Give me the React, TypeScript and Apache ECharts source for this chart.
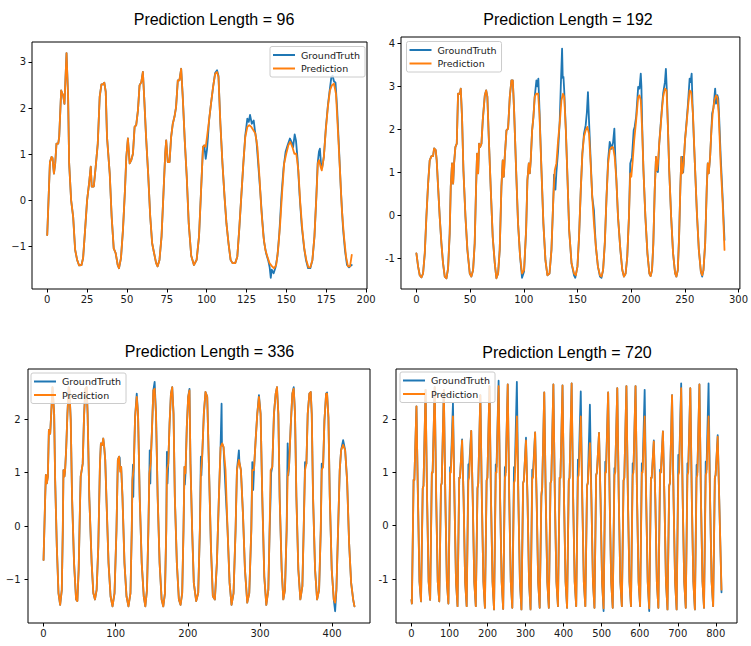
import { useEffect, useRef } from "react";
import * as echarts from "echarts";

// ---------- Panel 1: Prediction Length = 96 (flat x,y pairs) ----------
const shared96 = [
  0, -0.75, 1.7, 0.83, 2.7, 0.94, 3.3, 0.92, 4.2, 0.58, 5, 0.8, 5.8, 1.23, 6.9, 1.23, 7.5, 1.37, 8.75, 2.38,
  10, 2.27, 10.8, 2.09, 12.1, 3.19, 13.1, 2.24, 13.75, 0.8, 15, 0, 16.25, -0.35, 17.5, -1.07, 18.75, -1.29,
  20, -1.41, 21.5, -1.4, 22.5, -1.25, 23.75, -0.64, 25, 0, 26.25, 0.37, 27.3, 0.73, 27.9, 0.3, 29.2, 0.3,
  30.4, 0.73, 31.7, 1.23, 32.9, 2.24, 34, 2.51, 35, 2.51, 35.8, 2.55, 36.7, 2.35, 37.5, 1.37, 39.2, 0.58,
  40.4, -0.35, 41.7, -1.04, 42.9, -1.14, 44.2, -1.4, 45, -1.47, 46.25, -1.25, 47.5, -0.64, 48.75, 0.22,
  49.6, 0.94, 50.6, 1.34, 51.7, 0.8, 52.7, 0.87, 53.75, 1.01, 54.8, 1.59, 55.8, 1.63, 56.9, 1.95, 57.9, 2.49,
  59, 2.56, 60, 2.78, 60.8, 2.24, 62, 1.37, 63.3, 0.58, 64.6, -0.35, 65.8, -0.93, 67, -1.14, 68.3, -1.36,
  69.2, -1.43, 70.4, -1.29, 71.7, -0.78, 72.9, 0.15, 74, 1.01, 74.6, 1.3, 75.6, 0.83, 76.7, 0.83, 77.7, 1.37,
  78.75, 1.66, 79.8, 1.81, 80.8, 2.02, 81.9, 2.6, 82.9, 2.6, 84, 2.85, 85, 2.24, 86.25, 1.3, 87.5, 0.51,
  88.75, -0.5, 90.3, -1.2, 92, -1.4, 93.7, -1.29, 95.2, -0.78, 96.4, 0.15, 97.7, 1.16, 98.5, 1.19,
];
const pred96Tail = [
  99.4, 1.16, 100.2, 1.37, 101.5, 1.73, 102.7, 2.09, 104, 2.45, 105.3, 2.74, 106.5, 2.78, 107.4, 2.67,
  108.6, 1.66, 109.9, 0.8, 111.2, 0.08, 112.4, -0.5, 113.7, -0.93, 115, -1.29, 116.2, -1.36, 117.9, -1.36,
  119.2, -1.22, 120.4, -0.64, 121.7, 0.08, 123, 0.8, 124.2, 1.37, 125.5, 1.59, 126.7, 1.63, 128, 1.59,
  129.3, 1.52, 130.5, 1.45, 131.8, 1.16, 133.1, 0.51, 134.3, -0.21, 135.6, -0.78, 136.8, -1.07, 138.1, -1.22,
  139.4, -1.36, 141, -1.43, 142.3, -1.47, 143.6, -1.4, 144.8, -1.07, 146.1, -0.5, 147.4, 0.22, 148.6, 0.8,
  149.9, 1.01, 151.2, 1.19, 152.4, 1.27, 153.7, 1.16, 155, 1.01, 156.2, 1.01, 157.5, 0.65, 158.7, -0.06,
  160, -0.64, 161.3, -1.07, 162.5, -1.29, 163.8, -1.45, 165, -1.45, 166.3, -1.29, 167.6, -0.78, 168.8, 0.08,
  169.7, 0.8, 170.5, 0.87, 171.4, 0.73, 172.2, 0.65, 173.5, 0.94, 174.7, 1.52, 176, 2.02, 177.3, 2.38,
  178.5, 2.49, 179.8, 2.53, 181.1, 2.31, 182.3, 1.52, 183.6, 0.65, 184.8, -0.21, 186.1, -0.78, 187.4, -1.22,
  188.6, -1.43, 189.9, -1.43, 191, -1.18,
];
const gt96Tail = [
  99.4, 0.9, 100.2, 1.1, 100.8, 1.37, 101.5, 1.73, 102.7, 2.09, 104, 2.45, 105.3, 2.76, 106.5, 2.82,
  107.4, 2.7, 108.6, 1.66, 109.9, 0.8, 111.2, 0.08, 112.4, -0.5, 113.7, -0.93, 115, -1.29, 116.2, -1.36,
  117.9, -1.36, 119.2, -1.22, 120.4, -0.64, 121.7, 0.08, 123, 0.8, 124.2, 1.4, 125.5, 1.77, 126.4, 1.7,
  127.2, 1.85, 128.3, 1.66, 129.5, 1.73, 130.3, 1.5, 131.2, 1.3, 132.3, 0.8, 133.6, 0.2, 134.8, -0.4,
  136, -0.9, 137.3, -1.15, 138.6, -1.3, 139.5, -1.45, 140.2, -1.68, 140.8, -1.5, 142, -1.58, 143.2, -1.45,
  144.4, -1.2, 145.6, -0.7, 146.9, 0.1, 148.2, 0.7, 149.5, 1.05, 150.8, 1.2, 152.2, 1.34, 153.4, 1.25,
  154.2, 1.15, 155.2, 1.43, 156, 1.3, 157, 0.9, 158.3, 0.1, 159.6, -0.55, 161, -1.0, 162.3, -1.3,
  163.6, -1.47, 165, -1.47, 166.3, -1.3, 167.6, -0.78, 168.8, 0.1, 169.6, 0.8, 170.4, 1.05, 171, 1.12,
  171.8, 0.75, 172.4, 0.7, 173.5, 0.95, 174.7, 1.55, 176, 2.05, 177.2, 2.4, 178.2, 2.67, 179, 2.7,
  179.8, 2.58, 180.8, 2.55, 181.8, 2.0, 182.9, 1.2, 184.2, 0.2, 185.5, -0.6, 186.8, -1.1, 188, -1.4,
  189.3, -1.45, 190.3, -1.42, 191, -1.4,
];

// ---------- Panel 2: Prediction Length = 192 ----------
const shared192 = [
  0, -0.88, 1.6, -1.19, 3.1, -1.39, 4.7, -1.44, 6.2, -1.35, 7.8, -0.88, 9.3, -0.03, 10.9, 0.74, 12.4, 1.28,
  14, 1.38, 15.5, 1.38, 16.5, 1.56, 18, 1.52, 18.9, 1.28, 20.2, 0.67, 21.7, -0.03, 23.3, -0.65, 24.8, -1.11,
  26.4, -1.42, 28, -1.46, 29.5, -1.23, 31, -0.42, 32, 0.67, 33.2, 1.21, 34.2, 0.74, 35.1, 1.21, 36.3, 1.59,
  37.6, 1.67, 38.8, 2.83, 40.4, 2.83, 41.3, 2.95, 42.5, 2.29, 43.8, 1.05, 45.7, -0.03, 47.5, -0.8,
  49.7, -1.35, 51.2, -1.42, 52.8, -1.27, 54.3, -0.65, 55.6, 0.67, 56.5, 1.44, 57.5, 0.98, 58.4, 1.67,
  59.3, 1.59, 60.6, 1.67, 61.8, 2.21, 63.7, 2.79, 65, 2.91, 66.1, 2.76, 67.4, 1.83, 69.3, 0.59, 71.1, -0.5,
  73, -1.11, 74.5, -1.46, 76.1, -1.35, 77.6, -0.8, 79.2, 0.67, 80.4, 1.28, 81.4, 0.9, 82.3, 1.36, 83.9, 1.98,
  85.4, 2.02, 87, 2.76, 88.5, 3.14, 89.8, 3.14, 91, 2.45, 92.9, 1.05, 94.7, -0.19, 96.6, -0.96,
];
const pred192Tail = [
  98.4, -1.35, 100.3, -1.27, 102.2, -0.34, 103.4, 0.82, 104.7, 1.21, 105.6, 0.98, 106.5, 1.28, 107.8, 1.98,
  109, 2.29, 110.2, 2.76, 111.5, 2.83, 113.4, 2.83, 114.6, 2.37, 116.5, 1.05, 118.3, -0.19, 120.2, -1.04,
  122, -1.39, 124, -1.35, 125.8, -0.8, 127.6, 0.43, 128.9, 1.05, 130.4, 1.21, 132, 1.75, 133.5, 2.14,
  135.1, 2.68, 136.6, 2.83, 137.7, 2.76, 139.2, 1.98, 140.8, 0.82, 142.3, -0.34, 144.5, -1.11, 146.9, -1.35,
  148.5, -1.39, 150, -1.19, 151.5, -0.5, 153.1, 0.59, 154.6, 1.44, 156.1, 1.83, 157.7, 1.98, 159.2, 2.06,
  160.8, 1.9, 162.3, 1.21, 163.8, 0.43, 165.4, -0.19, 167.2, -0.73, 169.1, -1.19, 171, -1.39, 172.4, -1.42,
  173.9, -1.27, 175.5, -0.65, 177.1, 0.43, 178.6, 1.21, 180.1, 1.52, 181.7, 1.59, 183.2, 1.59, 184.7, 1.36,
  186.3, 0.82, 187.8, -0.03, 190, -0.8, 191.8, -1.27, 193.3, -1.42, 194.9, -1.35, 196.4, -0.96, 198, -0.03,
  199.2, 0.98, 200.2, 0.9, 201.3, 1.21, 202.9, 1.75, 204.7, 2.21, 206.6, 2.76, 207.8, 2.79, 209, 2.68,
  210.3, 1.98, 211.5, 1.05, 213.3, -0.03, 215.2, -0.88, 217, -1.35, 218.2, -1.41, 219.5, -1.27, 220.7, -0.65,
  222, 0.59, 223.2, 1.36, 224.1, 1.05, 225, 1.21, 226.2, 1.67, 227.5, 2.06, 228.7, 2.45, 229.9, 2.76,
  231.5, 2.95, 233, 2.91, 234.2, 2.14, 235.5, 1.05, 237.3, -0.03, 239.1, -0.88, 241, -1.35, 242.2, -1.42,
  243.5, -1.27, 244.7, -0.5, 245.9, 0.67, 246.8, 1.36, 247.8, 0.98, 249, 1.21, 250.2, 1.75, 251.4, 2.06,
  253, 2.52, 254.5, 2.91, 256, 2.87, 257.6, 2.37, 259.4, 1.21, 261.3, 0.05, 263.1, -0.8, 265, -1.31,
  266.2, -1.39, 267.4, -1.27, 269, -0.65, 270.5, 0.67, 271.4, 1.21, 272.3, 0.98, 273.6, 1.36, 274.8, 1.98,
  276, 2.37, 277.6, 2.68, 279.1, 2.79, 280.3, 2.76, 281.6, 2.37, 283.4, 1.21, 285.3, 0.28, 287, -0.8,
];
const gt192Tail = [
  98.4, -1.45, 100.3, -1.3, 102.2, -0.34, 103.4, 0.82, 104.7, 1.21, 105.6, 0.98, 106.5, 1.28, 107.8, 1.98,
  109, 2.29, 110.2, 2.76, 111.8, 3.14, 112.6, 3.0, 113.6, 3.18, 114.6, 2.5, 116.5, 1.05, 118.3, -0.19,
  120.2, -1.04, 122, -1.39, 124, -1.35, 125.8, -0.8, 127.6, 0.43, 128.2, 0.95, 128.9, 0.67, 129.5, 0.6,
  130.4, 1.0, 132, 1.5, 133.5, 2.2, 134.5, 3.0, 135.7, 3.88, 136.3, 3.2, 137, 3.22, 137.7, 2.9, 139.2, 2.0,
  140.8, 0.82, 142.3, -0.34, 144.5, -1.11, 146.9, -1.4, 148, -1.45, 150, -1.19, 151.5, -0.5, 153.1, 0.59,
  154.6, 1.44, 156.1, 1.9, 157.7, 2.1, 158.8, 2.4, 159.8, 2.87, 160.8, 2.2, 162.3, 1.3, 163.8, 0.43,
  165.4, 0.12, 166.2, -0.3, 167.2, -0.73, 169.1, -1.19, 171, -1.42, 172.4, -1.45, 173.9, -1.27, 175.5, -0.65,
  177.1, 0.43, 178.6, 1.3, 180.1, 1.71, 181.9, 1.55, 183.2, 1.7, 184.4, 2.02, 185.2, 1.4, 186.3, 0.82,
  187.8, -0.03, 190, -0.8, 191.8, -1.27, 193.3, -1.42, 194.9, -1.35, 196.4, -0.96, 198, -0.03, 199.2, 1.21,
  200.8, 1.35, 202.4, 1.98, 203.3, 2.06, 204.7, 2.3, 206.6, 2.99, 207.8, 2.95, 209, 3.3, 209.6, 3.0,
  210.3, 2.1, 211.5, 1.05, 213.3, -0.03, 215.2, -0.88, 217, -1.35, 218.2, -1.41, 219.5, -1.27, 220.7, -0.65,
  222, 0.59, 223.2, 1.36, 224.1, 1.05, 225, 1.01, 226.2, 1.67, 227.5, 2.1, 228.7, 2.5, 229.9, 2.85,
  231.5, 3.1, 232.4, 3.41, 233.2, 2.95, 234.2, 2.14, 235.5, 1.05, 237.3, -0.03, 239.1, -0.88, 241, -1.35,
  242.2, -1.42, 243.5, -1.27, 244.7, -0.5, 245.9, 0.67, 246.8, 1.36, 247.8, 1.36, 248.5, 1.0, 249, 1.21,
  250.2, 1.75, 251.4, 2.1, 253, 2.6, 254.5, 3.18, 255.4, 3.1, 256.4, 3.3, 257.2, 2.6, 258.4, 1.8,
  259.4, 1.21, 261.3, 0.05, 263.1, -0.8, 265, -1.31, 266.2, -1.42, 267.4, -1.27, 269, -0.65, 270.5, 0.67,
  271.4, 1.21, 272.3, 0.98, 273.6, 1.36, 274.8, 2.0, 275.5, 2.37, 276.7, 2.5, 277.6, 2.75, 278.3, 2.95,
  279.1, 2.6, 280.3, 2.8, 281.2, 2.72, 282, 2.3, 283.4, 1.4, 285.3, 0.4, 287, -0.57,
];

// ---------- Panel 3: Prediction Length = 336 ----------
const pred336 = [
  0, -0.63, 2.3, 0.55, 3.2, 0.96, 4.6, 0.8, 6, 0.93, 7.4, 1.8, 9.2, 1.73, 10.6, 2.1, 12.4, 2.6, 14.7, 2.1,
  16.1, 0.86, 18.4, -0.38, 20.7, -1.25, 23, -1.47, 25.3, -1.19, 26.7, -0.07, 27.6, 1.05, 29, 0.93, 29.9, 1.05,
  31.3, 1.42, 33.1, 2.1, 34.9, 2.6, 35.9, 2.54, 37.7, 1.98, 39.5, 0.55, 42.3, -0.69, 45.1, -1.37, 46.9, -1.4,
  48.7, -0.81, 50.6, 0.43, 51.5, 0.93, 52.9, 1.05, 54.3, 1.17, 56.1, 2.04, 57.9, 2.57, 59.8, 2.6, 61.1, 2.1,
  63.4, 0.55, 66.7, -0.69, 69, -1.25, 71.3, -1.37, 73.6, -1.19, 75.9, -0.38, 78.2, 1.17, 79.5, 1.55,
  81.4, 1.52, 82.8, 1.64, 84.1, 1.48, 85.5, 1.24, 87.4, 0.43, 90.1, -0.69, 92.9, -1.31, 95.6, -1.5,
  98.4, -1.25, 101.1, -0.07, 103, 1.24, 104.8, 1.3, 106.2, 1.02, 107.6, 1.11, 109.4, 0.55, 112.2, -0.69,
  115, -1.31, 117.7, -1.5, 120.5, -1.25, 122.3, -0.07, 123.2, 0.86, 125.1, 1.11, 126.9, 2.04, 129.2, 2.42,
  131, 2.1, 133.3, 0.55, 136.1, -0.69, 138.9, -1.31, 141.1, -1.5, 143.4, -1.19, 145.3, -0.07, 146.7, 0.99,
  148.5, 1.17, 150.3, 1.8, 152.2, 2.54, 154, 2.57, 155.9, 2.1, 158.2, 0.55, 160.9, -0.69, 163.7, -1.37,
  166, -1.5, 168.3, -1.25, 170.1, -0.07, 171, 1.05, 172.9, 1.17, 174.7, 1.92, 176.6, 2.48, 178.4, 2.6,
  180.2, 2.1, 182, 0.55, 184.8, -0.69, 187.6, -1.37, 189.9, -1.47, 192.2, -1.25, 194, -0.07, 195.4, 1.11,
  196.8, 0.99, 198.6, 1.86, 200.5, 2.42, 202.3, 2.54, 203.7, 1.17, 206, -0.07, 208.3, -1.06, 211.6, -1.4,
  214.4, -1.25, 216.7, -0.07, 218.1, 0.99, 219.9, 1.3, 222.2, 2.1, 224.5, 2.51, 226.9, 2.42, 229.2, 1.17,
  232, -0.38, 234.7, -1.31, 237.5, -1.37, 240.3, -0.69, 243.1, 0.55, 245.4, 1.48, 247.7, 1.55, 249.5, 1.48,
  252.3, 1.05, 255.1, -0.07, 257.9, -1.06, 260.6, -1.47, 263.4, -1.25, 266.2, -0.07, 268.1, 1.05, 270.8, 1.24,
  273.6, 1.05, 276.4, 0.24, 279.2, -0.81, 282.4, -1.43, 285.2, -1.25, 288, -0.07, 289.4, 1.05, 291.7, 1.05,
  294, 1.61, 296.3, 2.1, 298.6, 2.42, 300.9, 2.1, 303.2, 0.55, 306, -0.94, 308.8, -1.47, 311.6, -1.19,
  313.4, -0.07, 314.8, 1.05, 317.1, 1.11, 319.4, 2.1, 321.8, 2.48, 323.6, 2.6, 325.5, 2.1, 327.3, 0.55,
  330.1, -0.81, 332.4, -1.37, 334.7, -1.19, 337, -0.07, 338.4, 0.93, 340.3, 1.11, 342.6, 1.86, 344.9, 2.48,
  346.8, 2.57, 348.6, 2.1, 350.5, 0.55, 353.2, -0.81, 356, -1.37, 358.8, -1.12, 360.6, -0.07, 362.5, 1.05,
  364.4, 1.17, 366.2, 2.1, 368.5, 2.48, 370.4, 2.51, 371.8, 2.1, 373.6, 0.55, 376.4, -0.81, 379.2, -1.37,
  382, -1.19, 384.3, -0.07, 385.6, 1.05, 387.5, 1.11, 389.4, 1.98, 391.7, 2.48, 393, 2.48, 394.9, 2.04,
  396.8, 0.55, 399.5, -0.81, 402.3, -1.37, 404.2, -1.43, 406, -1.19, 408.3, -0.07, 410.6, 1.05, 412.5, 1.42,
  415.3, 1.52, 418.1, 1.42, 420.8, 0.86, 423.6, -0.32, 426.4, -1.06, 429.2, -1.37, 431, -1.5,
];
const gt336 = [
  0, -0.63, 2.3, 0.55, 3.2, 0.96, 4.6, 0.8, 6, 0.93, 7.4, 1.8, 9.2, 1.73, 10.6, 2.1, 12.4, 2.6, 14.7, 2.1,
  16.1, 0.86, 18.4, -0.38, 20.7, -1.25, 23, -1.47, 25.3, -1.19, 26.7, -0.07, 27.6, 1.05, 29, 0.93, 29.9, 1.05,
  31.3, 1.42, 33.1, 2.1, 34.9, 2.6, 35.9, 2.54, 37.7, 1.98, 39.5, 0.55, 42.3, -0.69, 45.1, -1.37, 46.9, -1.4,
  48.7, -0.81, 50.6, 0.43, 51.5, 0.93, 52.9, 1.05, 54.3, 1.17, 56.1, 2.04, 57.9, 2.57, 59.8, 2.6, 61.1, 2.1,
  63.4, 0.55, 66.7, -0.69, 69, -1.25, 71.3, -1.37, 73.6, -1.19, 75.9, -0.38, 78.2, 1.17, 79.5, 1.55,
  81.4, 1.52, 82.8, 1.64, 84.1, 1.48, 85.5, 1.24, 87.4, 0.43, 90.1, -0.69, 92.9, -1.31, 95.6, -1.5,
  98.4, -1.25, 101.1, -0.07, 103, 1.24, 104.8, 1.3, 105.6, 1.28, 106.2, 1.1, 107.6, 1.11, 109.4, 0.55,
  112.2, -0.69, 115, -1.31, 117.7, -1.5, 120.5, -1.25, 122.3, -0.07, 123.2, 0.86, 124, 1.15, 124.4, 0.55,
  125.1, 1.11, 126.9, 2.04, 129.2, 2.48, 131, 2.1, 133.3, 0.55, 136.1, -0.69, 138.9, -1.31, 141.1, -1.5,
  143.4, -1.19, 145.3, -0.07, 146.7, 0.99, 147.2, 1.42, 148, 0.8, 148.5, 1.17, 150.3, 1.8, 152.2, 2.54,
  154, 2.7, 155.9, 2.1, 158.2, 0.55, 160.9, -0.69, 163.7, -1.37, 166, -1.5, 168.3, -1.25, 170.1, -0.07,
  171, 1.39, 171.8, 0.8, 172.9, 1.17, 174.7, 1.92, 176.6, 2.48, 178.4, 2.6, 180.2, 2.1, 182, 0.55,
  184.8, -0.69, 187.6, -1.37, 189.9, -1.47, 192.2, -1.25, 194, -0.07, 195.4, 1.11, 195.9, 0.78, 196.8, 0.99,
  198.6, 1.86, 200.5, 2.42, 202.3, 2.57, 203.7, 1.17, 206, -0.07, 208.3, -1.06, 211.6, -1.4, 214.4, -1.25,
  216.7, -0.07, 218.1, 1.3, 218.8, 0.95, 219.9, 1.3, 222.2, 2.1, 224.5, 2.51, 226.9, 2.42, 229.2, 1.17,
  232, -0.38, 234.7, -1.31, 237.5, -1.37, 240.3, -0.69, 243.1, 0.55, 245.4, 1.48, 246.8, 2.29, 247.3, 1.55,
  249.5, 1.48, 252.3, 0.68, 255.1, -0.07, 257.9, -1.06, 260.6, -1.47, 263.4, -1.25, 266.2, -0.07, 268.1, 1.05,
  270.8, 1.42, 271.5, 1.2, 273.6, 1.05, 276.4, 0.24, 279.2, -0.81, 282.4, -1.43, 285.2, -1.25, 288, -0.07,
  289.4, 1.2, 290.6, 0.68, 291.7, 1.05, 294, 1.61, 296.3, 2.1, 298.6, 2.45, 300.9, 2.1, 303.2, 0.55,
  306, -0.94, 308.8, -1.47, 311.6, -1.19, 313.4, -0.07, 314.8, 0.55, 315.5, 1.0, 317.1, 1.11, 319.4, 2.1,
  321.8, 2.48, 323.6, 2.6, 325.5, 2.1, 327.3, 0.55, 330.1, -0.81, 332.4, -1.37, 334.7, -1.19, 337, -0.07,
  338.4, 1.55, 339.3, 0.95, 340.3, 1.11, 342.6, 1.86, 344.9, 2.48, 346.8, 2.6, 348.6, 2.1, 350.5, 0.55,
  353.2, -0.81, 356, -1.37, 358.8, -1.12, 360.6, -0.07, 362.5, 1.2, 364.4, 1.17, 366.2, 2.1, 368.5, 2.48,
  370.4, 2.51, 371.8, 2.1, 373.6, 0.55, 376.4, -0.81, 379.2, -1.37, 382, -1.19, 384.3, -0.07, 385.6, 1.17,
  387.5, 1.11, 389.4, 1.98, 391.7, 2.48, 393, 2.5, 394.9, 2.04, 396.8, 0.55, 399.5, -0.81, 402.3, -1.37,
  404.2, -1.59, 406, -1.19, 408.3, -0.07, 410.6, 1.05, 412.5, 1.42, 415.3, 1.61, 418.1, 1.42, 420.8, 0.86,
  423.6, -0.32, 426.4, -1.06, 429.2, -1.37, 431, -1.5,
];

// ---------- Panel 4: Prediction Length = 720 (shared x positions) ----------
const x720 = [
  0,
  1, 5.5, 7.5, 13, 17, 21, 25, 29.5, 31.5, 37, 41, 45, 49, 53.5, 55.5, 61, 65, 69,
  73, 77.5, 79.5, 85, 89, 93, 97, 101.5, 103.5, 109, 113, 117, 121, 125.5, 127.5, 133, 137, 141,
  145, 149.5, 151.5, 157, 161, 165, 169, 173.5, 175.5, 181, 185, 189, 193, 197.5, 199.5, 205, 209, 213,
  217, 221.5, 223.5, 229, 233, 237, 241, 245.5, 247.5, 253, 257, 261, 265, 269.5, 271.5, 277, 281, 285,
  289, 293.5, 295.5, 301, 305, 309, 313, 317.5, 319.5, 325, 329, 333, 337, 341.5, 343.5, 349, 353, 357,
  361, 365.5, 367.5, 373, 377, 381, 385, 389.5, 391.5, 397, 401, 405, 409, 413.5, 415.5, 421, 425, 429,
  433, 437.5, 439.5, 445, 449, 453, 457, 461.5, 463.5, 469, 473, 477, 481, 485.5, 487.5, 493, 497, 501,
  505, 509.5, 511.5, 517, 521, 525, 529, 533.5, 535.5, 541, 545, 549, 553, 557.5, 559.5, 565, 569, 573,
  577, 581.5, 583.5, 589, 593, 597, 601, 605.5, 607.5, 613, 617, 621, 625, 629.5, 631.5, 637, 641, 645,
  649, 653.5, 655.5, 661, 665, 669, 673, 677.5, 679.5, 685, 689, 693, 697, 701.5, 703.5, 709, 713, 717,
  721, 725.5, 727.5, 733, 737, 741, 745, 749.5, 751.5, 757, 761, 765, 769, 773.5, 775.5, 781, 785, 789,
  793, 797.5, 799.5, 805, 809, 815,
];
const pred720 = [
  -1.39,
  -1.46, 0.86, 0.86, 2.24, 0.5, -1.05, -1.42, 0.7, 0.75, 2.55, 0.5, -1.05, -1.39, 1.0, 1.0, 2.6, 0.5, -1.05,
  -1.42, 0.75, 0.8, 2.55, 0.5, -1.05, -1.46, 1.0, 1.0, 2.05, 0.5, -1.05, -1.51, 0.9, 0.9, 1.6, 0.5, -1.05,
  -1.51, 0.85, 0.9, 1.78, 0.5, -1.05, -1.51, 0.7, 0.8, 2.45, 0.5, -1.05, -1.54, 0.85, 0.9, 2.62, 0.5, -1.05,
  -1.57, 1.0, 1.0, 2.62, 0.5, -1.05, -1.56, 0.9, 0.95, 2.65, 0.5, -1.05, -1.54, 0.8, 0.85, 2.05, 0.5, -1.05,
  -1.57, 0.8, 0.85, 1.6, 0.5, -1.05, -1.57, 0.9, 0.9, 1.75, 0.5, -1.05, -1.54, 0.6, 0.7, 2.5, 0.5, -1.05,
  -1.54, 0.8, 0.85, 2.65, 0.5, -1.05, -1.51, 0.9, 0.9, 2.63, 0.5, -1.05, -1.54, 0.85, 0.9, 2.67, 0.5, -1.05,
  -1.51, 0.9, 0.95, 2.05, 0.5, -1.05, -1.51, 0.75, 0.8, 1.55, 0.5, -1.05, -1.54, 0.95, 1.0, 1.74, 0.5, -1.05,
  -1.55, 1.0, 1.0, 2.5, 0.5, -1.05, -1.54, 0.95, 1.0, 2.58, 0.5, -1.05, -1.51, 0.85, 0.9, 2.62, 0.5, -1.05,
  -1.51, 0.95, 1.0, 2.62, 0.5, -1.05, -1.51, 1.0, 1.0, 2.05, 0.5, -1.05, -1.55, 0.9, 0.9, 1.58, 0.5, -1.05,
  -1.54, 1.0, 1.0, 1.77, 0.5, -1.05, -1.57, 0.75, 0.8, 2.45, 0.5, -1.05, -1.57, 0.95, 1.0, 2.58, 0.5, -1.05,
  -1.54, 0.95, 1.0, 2.58, 0.5, -1.05, -1.57, 0.9, 0.95, 2.65, 0.5, -1.05, -1.54, 0.95, 1.0, 2.05, 0.5, -1.05,
  -1.51, 0.9, 0.95, 1.67, 0.5, -1.2,
];
const gt720 = [
  -1.39,
  -1.46, 0.86, 0.86, 2.24, 0.5, -1.05, -1.42, 0.7, 0.75, 2.55, 0.5, -1.05, -1.39, 1.0, 1.0, 2.6, 0.5, -1.05,
  -1.42, 0.75, 0.8, 2.55, 0.5, -1.05, -1.46, 1.1, 1.1, 2.3, 0.5, -1.05, -1.51, 0.9, 0.9, 1.62, 0.5, -1.05,
  -1.51, 1.15, 1.1, 1.78, 0.5, -1.05, -1.51, 0.7, 0.8, 2.45, 0.5, -1.05, -1.54, 0.85, 0.9, 2.62, 0.5, -1.05,
  -1.57, 1.15, 1.1, 2.72, 0.5, -1.05, -1.56, 1.1, 1.0, 2.65, 0.5, -1.05, -1.54, 1.1, 1.0, 2.7, 0.5, -1.05,
  -1.57, 0.8, 0.85, 1.65, 0.5, -1.05, -1.57, 1.05, 1.0, 1.75, 0.5, -1.05, -1.54, 0.55, 0.7, 2.5, 0.5, -1.05,
  -1.54, 0.8, 0.85, 2.65, 0.5, -1.05, -1.51, 0.9, 0.9, 2.63, 0.5, -1.05, -1.54, 0.85, 0.9, 2.67, 0.5, -1.05,
  -1.51, 1.24, 1.1, 2.52, 0.5, -1.05, -1.51, 0.75, 0.8, 2.27, 0.5, -1.05, -1.54, 0.95, 1.0, 1.74, 0.5, -1.05,
  -1.6, 1.2, 1.1, 2.5, 0.5, -1.05, -1.54, 1.08, 1.0, 2.58, 0.5, -1.05, -1.51, 0.85, 0.9, 2.62, 0.5, -1.05,
  -1.51, 1.17, 1.05, 2.62, 0.5, -1.05, -1.51, 1.17, 1.05, 2.55, 0.5, -1.05, -1.6, 0.9, 0.9, 1.6, 0.5, -1.05,
  -1.54, 1.05, 1.0, 1.77, 0.5, -1.05, -1.57, 0.75, 0.8, 2.45, 0.5, -1.05, -1.57, 1.33, 1.1, 2.67, 0.5, -1.05,
  -1.54, 1.17, 1.05, 2.58, 0.5, -1.05, -1.57, 1.14, 1.0, 2.65, 0.5, -1.05, -1.54, 1.2, 1.05, 2.67, 0.5, -1.05,
  -1.51, 0.9, 0.95, 1.7, 0.5, -1.25,
];

// ---------- Tick labels and titles ----------
const xTicks1 = [0, 25, 50, 75, 100, 125, 150, 175, 200];
const yTicks1 = [-1, 0, 1, 2, 3];
const xTicks2 = [0, 50, 100, 150, 200, 250, 300];
const yTicks2 = [-1, 0, 1, 2, 3, 4];
const xTicks3 = [0, 100, 200, 300, 400];
const yTicks3 = [-1, 0, 1, 2];
const xTicks4 = [0, 100, 200, 300, 400, 500, 600, 700, 800];
const yTicks4 = [-1, 0, 1, 2];
const titles = [
  "Prediction Length = 96",
  "Prediction Length = 192",
  "Prediction Length = 336",
  "Prediction Length = 720",
];
const seriesNames = ["GroundTruth", "Prediction"];

const BLUE = "#1f77b4";
const ORANGE = "#ff7f0e";

const toPairs = (flat: number[]) => {
  const out: number[][] = [];
  for (let i = 0; i + 1 < flat.length; i += 2) out.push([flat[i], flat[i + 1]]);
  return out;
};
const zip = (xs: number[], ys: number[]) => xs.map((x, i) => [x, ys[i]]);

const fmt = (unicodeMinus: boolean) => (v: number) =>
  v < 0 ? (unicodeMinus ? "\u2212" : "-") + Math.abs(v) : String(v);

const labelStyle = {
  fontSize: 10,
  fontFamily: "DejaVu Sans",
  color: "#1a1a1a",
};

const xAxisCfg = (gridIndex: number, min: number, max: number, ticks: number[], um: boolean) => ({
  type: "value",
  gridIndex,
  min,
  max,
  axisLine: { show: false, onZero: false },
  axisTick: { show: true, length: 3.5, lineStyle: { color: "#000", width: 1 }, customValues: ticks },
  axisLabel: { ...labelStyle, margin: 5, customValues: ticks, formatter: fmt(um) },
  splitLine: { show: false },
});
const yAxisCfg = (gridIndex: number, min: number, max: number, ticks: number[], um: boolean, margin: number) => ({
  type: "value",
  gridIndex,
  min,
  max,
  axisLine: { show: false, onZero: false },
  axisTick: { show: true, length: 3.5, lineStyle: { color: "#000", width: 1 }, customValues: ticks },
  axisLabel: { ...labelStyle, margin, customValues: ticks, formatter: fmt(um) },
  splitLine: { show: false },
});

const lineSeries = (name: string, idx: number, data: number[][], color: string, z: number) => ({
  name,
  type: "line",
  xAxisIndex: idx,
  yAxisIndex: idx,
  data,
  showSymbol: false,
  symbol: "none",
  z,
  itemStyle: { color },
  lineStyle: { color, width: 1.8, join: "round", cap: "round" },
  emphasis: { disabled: true },
});

const legendCfg = (left: number, top: number) => ({
  data: seriesNames,
  orient: "vertical",
  left,
  top,
  icon: "rect",
  itemWidth: 22,
  itemHeight: 2,
  itemGap: 2.5,
  padding: [3, 5, 3, 3],
  backgroundColor: "rgba(255,255,255,0.8)",
  borderColor: "#cccccc",
  borderWidth: 1,
  borderRadius: 2,
  textStyle: { fontSize: 9.5, fontFamily: "DejaVu Sans", color: "#1a1a1a", lineHeight: 11, padding: [0, 0, 0, 1] },
});

const titleText = (text: string, x: number, y: number) => ({
  type: "text",
  x,
  y,
  style: {
    text,
    textAlign: "center",
    textVerticalAlign: "middle",
    fontSize: 16,
    fontFamily: "Liberation Sans",
    fill: "#000",
  },
});

const grids = [
  { left: 32, top: 42, width: 335, height: 247 },
  { left: 401, top: 37, width: 341, height: 252 },
  { left: 28, top: 369, width: 342, height: 254 },
  { left: 396, top: 369, width: 341, height: 254 },
].map((g) => ({ ...g, show: true, borderColor: "#000", borderWidth: 1, backgroundColor: "transparent", containLabel: false }));

const option = {
  animation: false,
  backgroundColor: "#fff",
  grid: grids,
  xAxis: [
    xAxisCfg(0, -9.55, 200.55, xTicks1, true),
    xAxisCfg(1, -14.35, 301.35, xTicks2, false),
    xAxisCfg(2, -21.55, 452.55, xTicks3, true),
    xAxisCfg(3, -40.75, 855.75, xTicks4, false),
  ],
  yAxis: [
    yAxisCfg(0, -1.92, 3.43, yTicks1, true, 6),
    yAxisCfg(1, -1.71, 4.15, yTicks2, false, 6),
    yAxisCfg(2, -1.81, 2.94, yTicks3, true, 7.5),
    yAxisCfg(3, -1.825, 2.94, yTicks4, false, 7.5),
  ],
  legend: [legendCfg(270, 46.5), legendCfg(406.5, 41.5), legendCfg(31, 373), legendCfg(400, 372)],
  series: [
    lineSeries("GroundTruth", 0, toPairs([...shared96, ...gt96Tail]), BLUE, 2),
    lineSeries("Prediction", 0, toPairs([...shared96, ...pred96Tail]), ORANGE, 3),
    lineSeries("GroundTruth", 1, toPairs([...shared192, ...gt192Tail]), BLUE, 2),
    lineSeries("Prediction", 1, toPairs([...shared192, ...pred192Tail]), ORANGE, 3),
    lineSeries("GroundTruth", 2, toPairs(gt336), BLUE, 2),
    lineSeries("Prediction", 2, toPairs(pred336), ORANGE, 3),
    lineSeries("GroundTruth", 3, zip(x720, gt720), BLUE, 2),
    lineSeries("Prediction", 3, zip(x720, pred720), ORANGE, 3),
  ],
  graphic: [
    titleText(titles[0], 214, 19),
    titleText(titles[1], 568, 19),
    titleText(titles[2], 209.5, 351.5),
    titleText(titles[3], 567, 352),
  ],
};

export default function App() {
  const ref = useRef<HTMLDivElement>(null);
  useEffect(() => {
    if (!ref.current) return;
    const chart = echarts.init(ref.current, null, { renderer: "svg" });
    chart.setOption(option as any);
    return () => chart.dispose();
  }, []);
  return (
    <div
      ref={ref}
      style={{ position: "absolute", left: 0, top: 0, width: 751, height: 646, background: "#fff" }}
    />
  );
}
